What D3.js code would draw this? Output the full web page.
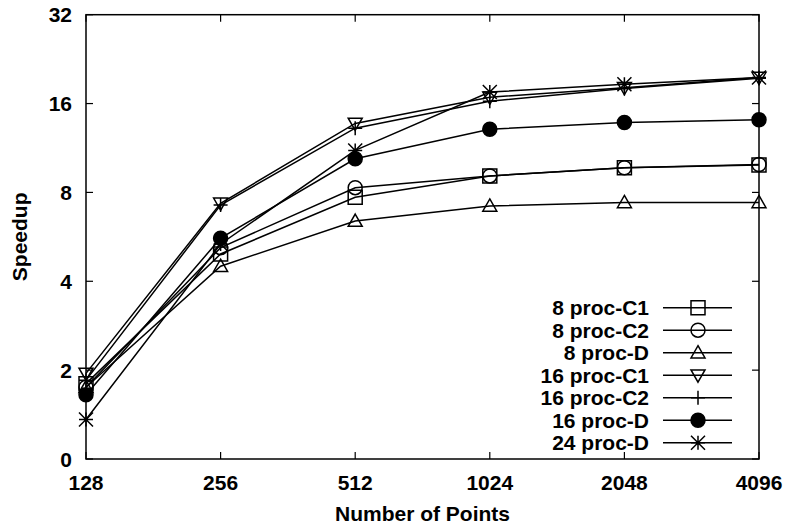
<!DOCTYPE html>
<html>
<head>
<meta charset="utf-8">
<script src="https://cdn.jsdelivr.net/npm/d3@7"></script>
<style>
  body { margin: 0; background: #fff; }
  text { font-family: "Liberation Sans", Arial, sans-serif; font-weight: bold; fill: #000; }
</style>
</head>
<body>
<div id="chart"></div>
<script>
const WIDTH = 787;
const HEIGHT = 531;
const MARGIN = { left: 86, right: 28, top: 14.7, bottom: 72 };

const POINTS = [128, 256, 512, 1024, 2048, 4096];
const Y_TICKS = [1, 2, 4, 8, 16, 32];
const Y_TICK_LABELS = ['0', '2', '4', '8', '16', '32'];

const SERIES_NAMES = ['8 proc-C1', '8 proc-C2', '8 proc-D', '16 proc-C1', '16 proc-C2', '16 proc-D', '24 proc-D'];
const SERIES_MARKERS = ['square', 'circle', 'triangleUp', 'triangleDown', 'plus', 'dot', 'star'];

const proc8C1 = [1.8, 4.95, 7.7, 9.1, 9.7, 9.9];
const proc8C2 = [1.75, 5.2, 8.3, 9.1, 9.7, 9.95];
const proc8D = [1.75, 4.5, 6.4, 7.2, 7.4, 7.4];
const proc16C1 = [1.95, 7.35, 13.7, 16.8, 18.1, 19.6];
const proc16C2 = [1.85, 7.25, 13.2, 16.3, 18.0, 19.5];
const proc16D = [1.65, 5.6, 10.4, 13.1, 13.8, 14.1];
const proc24D = [1.36, 5.35, 11.1, 17.5, 18.6, 19.6];

const SERIES_VALUES = [proc8C1, proc8C2, proc8D, proc16C1, proc16C2, proc16D, proc24D];

const MARK = 7;

document.addEventListener('DOMContentLoaded', function() {
  draw();
});

// gnuplot-like point shapes, centred on 0,0
function markerPath(type)
{
  const s = MARK;
  switch (type) {
    case 'square':
      return `M${-s},${-s}H${s}V${s}H${-s}Z`;
    case 'circle':
      return `M${s},0A${s},${s} 0 1,1 ${-s},0A${s},${s} 0 1,1 ${s},0Z`;
    case 'dot':
      return `M${s},0A${s},${s} 0 1,1 ${-s},0A${s},${s} 0 1,1 ${s},0Z`;
    case 'triangleUp':
      return `M0,${-s}L${s},${s * 0.75}L${-s},${s * 0.75}Z`;
    case 'triangleDown':
      return `M0,${s}L${s},${-s * 0.75}L${-s},${-s * 0.75}Z`;
    case 'plus':
      return `M${-s},0H${s}M0,${-s}V${s}`;
    case 'star':
      return `M${-s},0H${s}M0,${-s}V${s}M${-s},${-s}L${s},${s}M${-s},${s}L${s},${-s}`;
  }
}

function draw()
{
  const svg = d3.select('#chart').append('svg')
    .attr('width', WIDTH)
    .attr('height', HEIGHT);

  const x = d3.scaleLog().base(2)
    .domain([128, 4096])
    .range([MARGIN.left, WIDTH - MARGIN.right]);

  const y = d3.scaleLog().base(2)
    .domain([1, 32])
    .range([HEIGHT - MARGIN.bottom, MARGIN.top]);

  const x0 = x.range()[0], x1 = x.range()[1];
  const y0 = y.range()[0], y1 = y.range()[1];
  const TICK = 7;

  // ticks (inside, mirrored)
  const ticks = svg.append('g').attr('stroke', '#000').attr('stroke-width', 1.2);
  POINTS.forEach(function(p) {
    ticks.append('line').attr('x1', x(p)).attr('x2', x(p)).attr('y1', y0).attr('y2', y0 - TICK);
    ticks.append('line').attr('x1', x(p)).attr('x2', x(p)).attr('y1', y1).attr('y2', y1 + TICK);
  });
  Y_TICKS.forEach(function(v) {
    ticks.append('line').attr('x1', x0).attr('x2', x0 + TICK).attr('y1', y(v)).attr('y2', y(v));
    ticks.append('line').attr('x1', x1).attr('x2', x1 - TICK).attr('y1', y(v)).attr('y2', y(v));
  });

  svg.selectAll('.xlabel')
    .data(POINTS)
    .enter()
    .append('text')
    .attr('x', function(d) { return x(d); })
    .attr('y', y0 + 31)
    .attr('text-anchor', 'middle')
    .style('font-size', '21px')
    .text(function(d) { return d; });

  svg.selectAll('.ylabel')
    .data(Y_TICKS)
    .enter()
    .append('text')
    .attr('x', x0 - 14)
    .attr('y', function(d) { return y(d); })
    .attr('dy', '0.36em')
    .attr('text-anchor', 'end')
    .style('font-size', '21px')
    .text(function(d, i) { return Y_TICK_LABELS[i]; });

  svg.append('text')
    .attr('x', (x0 + x1) / 2)
    .attr('y', 521)
    .attr('text-anchor', 'middle')
    .style('font-size', '21px')
    .text('Number of Points');

  svg.append('text')
    .attr('transform', 'translate(27,' + ((y0 + y1) / 2) + ') rotate(-90)')
    .attr('text-anchor', 'middle')
    .style('font-size', '21px')
    .text('Speedup');

  const lineGenerator = d3.line()
    .x(function(d) { return x(d.p); })
    .y(function(d) { return y(d.v); });

  SERIES_VALUES.forEach(function(values, i) {
    const data = POINTS.map(function(p, j) { return { p: p, v: values[j] }; });
    const type = SERIES_MARKERS[i];

    svg.append('path')
      .attr('d', lineGenerator(data))
      .style('stroke', '#000')
      .style('stroke-width', 1.5)
      .style('fill', 'none');

    svg.append('g').selectAll('path')
      .data(data)
      .enter()
      .append('path')
      .attr('transform', function(d) { return 'translate(' + x(d.p) + ',' + y(d.v) + ')'; })
      .attr('d', markerPath(type))
      .style('stroke', '#000')
      .style('stroke-width', 1.5)
      .style('fill', type == 'dot' ? '#000' : 'none');
  });

  // legend
  const legend = svg.append('g');
  SERIES_NAMES.forEach(function(name, i) {
    const ly = 307.7 + i * 22.5;
    legend.append('text')
      .attr('x', 649)
      .attr('y', ly)
      .attr('dy', '0.36em')
      .attr('text-anchor', 'end')
      .style('font-size', '21px')
      .text(name);
    legend.append('line')
      .attr('x1', 663).attr('x2', 732)
      .attr('y1', ly).attr('y2', ly)
      .style('stroke', '#000')
      .style('stroke-width', 1.5);
    legend.append('path')
      .attr('transform', 'translate(698,' + ly + ')')
      .attr('d', markerPath(SERIES_MARKERS[i]))
      .style('stroke', '#000')
      .style('stroke-width', 1.5)
      .style('fill', SERIES_MARKERS[i] == 'dot' ? '#000' : 'none');
  });

  svg.append('rect')
    .attr('x', x0).attr('y', y1)
    .attr('width', x1 - x0).attr('height', y0 - y1)
    .style('fill', 'none')
    .style('stroke', '#000')
    .style('stroke-width', 1.5);
}
</script>
</body>
</html>
